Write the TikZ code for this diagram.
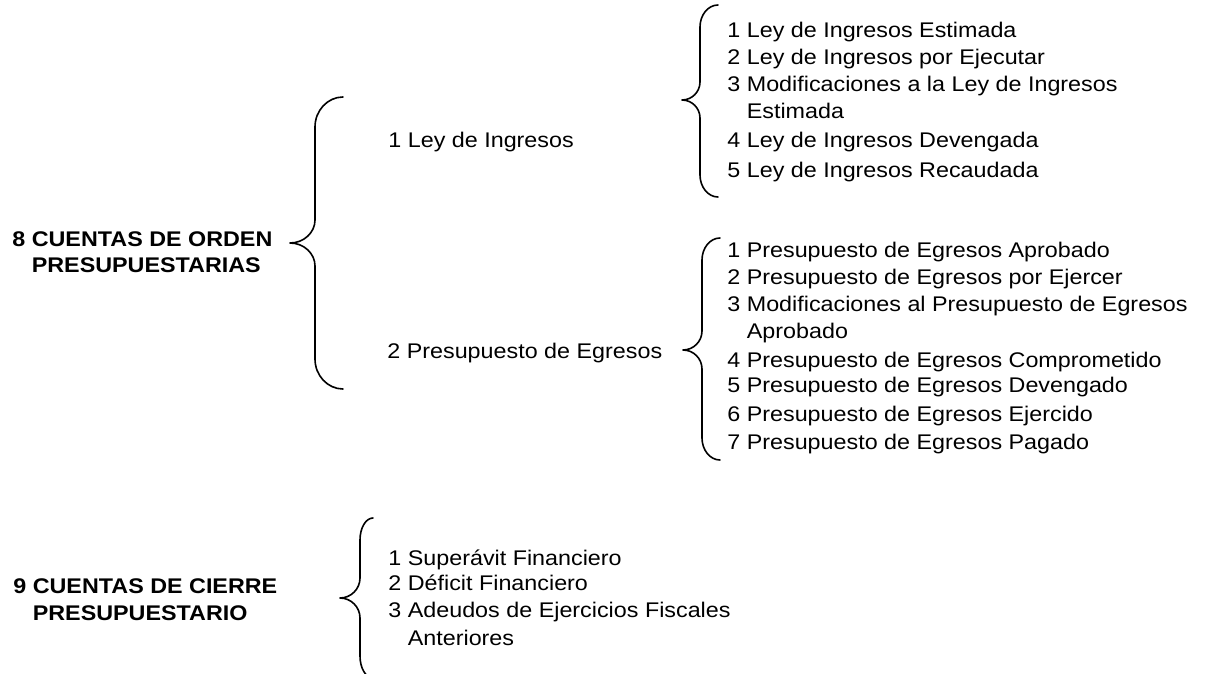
\documentclass[tikz,border=0pt]{standalone}
\usepackage{fontspec}
\setmainfont{Liberation Sans}[FakeStretch=1.1]
\usepackage{tikz}
\usetikzlibrary{positioning}
\tikzset{
  item/.style={anchor=base west,inner sep=0pt,font=\fontsize{10.6}{13}\selectfont},
  cuenta/.style={item,font=\fontsize{10.6}{13}\selectfont\bfseries},
  llave/.style={black,line width=0.8pt,line join=round,line cap=round}
}
% curly brace: tip x, stem x, point x, top y, point y, bottom y, end curl, point curl
\newcommand\llave[8]{
\draw[llave] (#1,#4) .. controls ({#2+0.45*(#1-#2)},#4) and (#2,{#4+0.45*#7}) .. (#2,#4+#7)
  -- (#2,#5-#8) .. controls (#2,{#5-0.45*#8}) and ({#2-0.45*(#2-#3)},#5) .. (#3,#5)
  .. controls ({#2-0.45*(#2-#3)},#5) and (#2,{#5+0.45*#8}) .. (#2,#5+#8)
  -- (#2,#6-#7) .. controls (#2,{#6-0.45*#7}) and ({#2+0.45*(#1-#2)},#6) .. (#1,#6);}

\begin{document}
\begin{tikzpicture}[x=0.5pt,y=-0.5pt]
\useasboundingbox (0,0) rectangle (1207,674);

% 8
\node[cuenta] (cuenta8) at (12,247) {8 CUENTAS DE ORDEN};
\node[cuenta] (cuenta8b) at (12,272) {\hphantom{8\ }PRESUPUESTARIAS};
\llave{343}{315}{290}{97}{243}{389}{30}{23}

\node[item] (ley) at (388,148) {1 Ley de Ingresos};
\node[item] (egresos) at (387,358) {2 Presupuesto de Egresos};

\llave{718}{700}{682}{5}{100}{197}{22}{18}
\node[item] (ley1) at (727,38) {1 Ley de Ingresos Estimada};
\node[item] (ley2) at (727,65) {2 Ley de Ingresos por Ejecutar};
\node[item] (ley3) at (727,92) {3 Modificaciones a la Ley de Ingresos};
\node[item] (ley3b) at (727,119) {\hphantom{3\ }Estimada};
\node[item] (ley4) at (727,148) {4 Ley de Ingresos Devengada};
\node[item] (ley5) at (727,178) {5 Ley de Ingresos Recaudada};

\llave{720}{702}{683}{238}{350}{460}{22}{19}
\node[item] (egr1) at (727,257) {1 Presupuesto de Egresos Aprobado};
\node[item] (egr2) at (727,285) {2 Presupuesto de Egresos por Ejercer};
\node[item] (egr3) at (727,312) {3 Modificaciones al Presupuesto de Egresos};
\node[item] (egr3b) at (727,339) {\hphantom{3\ }Aprobado};
\node[item] (egr4) at (727,367) {4 Presupuesto de Egresos Comprometido};
\node[item] (egr5) at (727,393) {5 Presupuesto de Egresos Devengado};
\node[item] (egr6) at (727,422) {6 Presupuesto de Egresos Ejercido};
\node[item] (egr7) at (727,450) {7 Presupuesto de Egresos Pagado};

% 9
\node[cuenta] (cuenta9) at (13,593) {9 CUENTAS DE CIERRE};
\node[cuenta] (cuenta9b) at (13,620) {\hphantom{9\ }PRESUPUESTARIO};
\llave{373}{360}{340}{518}{598}{678}{22}{20}

\node[item] (cie1) at (388,565) {1 Superávit Financiero};
\node[item] (cie2) at (388,590) {2 Déficit Financiero};
\node[item] (cie3) at (388,617) {3 Adeudos de Ejercicios Fiscales};
\node[item] (cie3b) at (388,645) {\hphantom{3\ }Anteriores};
\end{tikzpicture}
\end{document}
